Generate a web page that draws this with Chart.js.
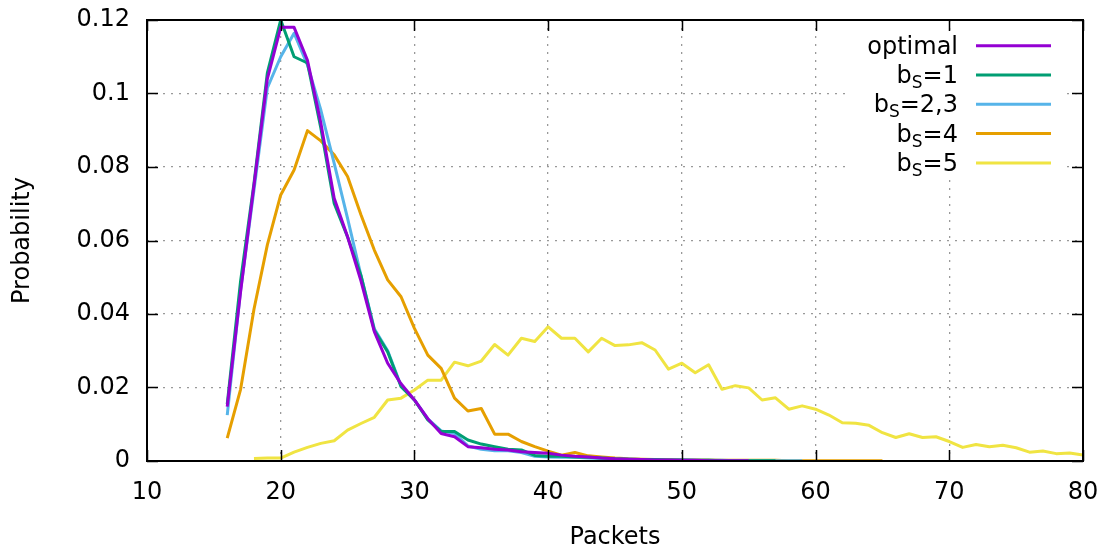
<!DOCTYPE html>
<html>
<head>
<meta charset="utf-8">
<script src="https://cdn.jsdelivr.net/npm/chart.js@4.4.1/dist/chart.umd.min.js"></script>
<style>
  html, body { margin: 0; padding: 0; background: #fff; }
</style>
</head>
<body>
<canvas id="myChart" width="1106" height="550"></canvas>
<script>
// packets (x) start for each series, one value per packet count after that
const seriesNames = ["optimal", "b_S=1", "b_S=2,3", "b_S=4", "b_S=5"]
const seriesStart = [16, 16, 16, 16, 18]

const optimal = [0.0148, 0.046, 0.075, 0.104, 0.118, 0.118, 0.109, 0.092, 0.0715, 0.061,
  0.049, 0.0352, 0.0266, 0.021, 0.0166, 0.0115, 0.0075, 0.0066, 0.0039, 0.0036,
  0.0032, 0.003, 0.0025, 0.0023, 0.0021, 0.0016, 0.0013, 0.0011, 0.0008, 0.0006,
  0.0005, 0.0004, 0.0003, 0.0003, 0.0002, 0.0002, 0.0001, 0.0001, 0.0001, 0.0001]

const bs1 = [0.0155, 0.049, 0.0755, 0.1056, 0.12, 0.11, 0.1083, 0.0906, 0.0701, 0.061,
  0.0505, 0.0356, 0.0297, 0.0202, 0.0166, 0.0112, 0.008, 0.008, 0.0057, 0.0046,
  0.0039, 0.0032, 0.003, 0.0015, 0.0013, 0.0013, 0.0011, 0.001, 0.0008, 0.0006,
  0.0005, 0.0004, 0.0004, 0.0003, 0.0003, 0.0002, 0.0002, 0.0001, 0.0001, 0.0001,
  0.0001, 0.0001]

const bs23 = [0.0125, 0.0465, 0.0737, 0.1015, 0.11, 0.1164, 0.1078, 0.0955, 0.081, 0.066,
  0.0505, 0.036, 0.03, 0.0205, 0.0166, 0.0115, 0.0082, 0.0075, 0.0041, 0.0032,
  0.0028, 0.0028, 0.0023, 0.0013, 0.0011, 0.001, 0.001, 0.0008, 0.0007, 0.0005,
  0.0005, 0.0004, 0.0003, 0.0003, 0.0003, 0.0002, 0.0002, 0.0002, 0.0001, 0.0001,
  0.0001, 0.0001, 0.0001, 0.0001]

const bs4 = [0.0062, 0.0195, 0.0413, 0.0588, 0.0724, 0.0792, 0.0899, 0.0871, 0.0833, 0.0774,
  0.067, 0.0574, 0.0493, 0.0447, 0.0361, 0.0288, 0.0252, 0.0171, 0.0136, 0.0143,
  0.0073, 0.0073, 0.0053, 0.0039, 0.0027, 0.0016, 0.0023, 0.0014, 0.0011, 0.0008,
  0.0006, 0.0005, 0.0004, 0.0004, 0.0003, 0.0003, 0.0003, 0.0002, 0.0002, 0.0002,
  0.0002, 0.0002, 0.0001, 0.0001, 0.0001, 0.0001, 0.0001, 0.0001, 0.0001, 0.0001]

const bs5 = [0.0007, 0.0008, 0.0008, 0.0024, 0.0037, 0.0048, 0.0055, 0.0084, 0.0102, 0.0119,
  0.0166, 0.0171, 0.0193, 0.022, 0.022, 0.0269, 0.0259, 0.0272, 0.0317, 0.0288,
  0.0334, 0.0325, 0.0365, 0.0334, 0.0334, 0.0297, 0.0334, 0.0314, 0.0316, 0.0322,
  0.0302, 0.025, 0.0266, 0.024, 0.0262, 0.0195, 0.0205, 0.0199, 0.0166, 0.0172,
  0.0141, 0.015, 0.0141, 0.0125, 0.0104, 0.0103, 0.0097, 0.0077, 0.0064, 0.0074,
  0.0064, 0.0066, 0.0053, 0.0037, 0.0045, 0.0039, 0.0043, 0.0036, 0.0024, 0.0027,
  0.002, 0.0022, 0.0016]

const xTicks = [10, 20, 30, 40, 50, 60, 70, 80]
const yTicks = [0, 0.02, 0.04, 0.06, 0.08, 0.1, 0.12]

const allSeries = [optimal, bs1, bs23, bs4, bs5]
const lineColors = ["#9400d3", "#009e73", "#56b4e9", "#e69f00", "#f0e442"]
const fontName = "'DejaVu Sans', sans-serif"

function toPoints(values, start) {
  return values.map((v, i) => ({ x: start + i, y: v }))
}

const datasets = allSeries.map((values, i) => ({
  label: seriesNames[i],
  data: toPoints(values, seriesStart[i]),
  borderColor: lineColors[i],
  borderWidth: 3,
  pointRadius: 0,
  tension: 0,
  borderJoinStyle: "round",
  fill: false,
}))

// draws "b_S=1" as b + subscript S + rest
function drawKeyLabel(ctx, text, right, y) {
  const big = "24px " + fontName
  const small = "17px " + fontName
  let parts = [{ t: text, sub: false }]
  if (text.includes("_")) {
    const head = text.split("_")[0]
    const rest = text.split("_")[1]
    parts = [{ t: head, sub: false }, { t: rest[0], sub: true }, { t: rest.slice(1), sub: false }]
  }
  let total = 0
  parts.forEach((p) => {
    ctx.font = p.sub ? small : big
    p.w = ctx.measureText(p.t).width
    total += p.w
  })
  let x = right - total
  ctx.textAlign = "left"
  ctx.textBaseline = "alphabetic"
  parts.forEach((p) => {
    ctx.font = p.sub ? small : big
    ctx.fillText(p.t, x, p.sub ? y + 13 : y + 8)
    x += p.w
  })
}

const gnuplotLook = {
  id: "gnuplotLook",
  beforeDatasetsDraw(chart) {
    const ctx = chart.ctx
    const a = chart.chartArea
    ctx.save()
    ctx.fillStyle = "#fff"
    ctx.fillRect(a.right - 238, a.top + 12, 222, 146)
    ctx.restore()
  },
  afterDatasetsDraw(chart) {
    const ctx = chart.ctx
    const a = chart.chartArea
    const xs = chart.scales.x
    const ys = chart.scales.y
    ctx.save()
    ctx.strokeStyle = "#000"
    ctx.lineWidth = 1.5
    ctx.beginPath()
    xTicks.forEach((v) => {
      const px = Math.round(xs.getPixelForValue(v)) + 0.5
      ctx.moveTo(px, a.bottom)
      ctx.lineTo(px, a.bottom - 11)
      ctx.moveTo(px, a.top)
      ctx.lineTo(px, a.top + 11)
    })
    yTicks.forEach((v) => {
      const py = Math.round(ys.getPixelForValue(v)) + 0.5
      ctx.moveTo(a.left, py)
      ctx.lineTo(a.left + 11, py)
      ctx.moveTo(a.right, py)
      ctx.lineTo(a.right - 11, py)
    })
    ctx.stroke()

    ctx.lineWidth = 2
    ctx.strokeRect(a.left, a.top, a.right - a.left, a.bottom - a.top)

    // key
    ctx.fillStyle = "#000"
    seriesNames.forEach((name, i) => {
      const y = a.top + 25.7 + i * 29.3
      drawKeyLabel(ctx, name, a.right - 125, y)
      ctx.strokeStyle = lineColors[i]
      ctx.lineWidth = 3
      ctx.beginPath()
      ctx.moveTo(a.right - 107, y)
      ctx.lineTo(a.right - 32, y)
      ctx.stroke()
    })
    ctx.restore()
  },
}

new Chart(document.getElementById("myChart"), {
  type: "line",
  data: { datasets: datasets },
  plugins: [gnuplotLook],
  options: {
    responsive: false,
    animation: false,
    layout: { padding: { top: 20, right: 23, left: 0, bottom: 0 } },
    plugins: {
      legend: { display: false },
      tooltip: { enabled: false },
    },
    scales: {
      x: {
        type: "linear",
        min: 10,
        max: 80,
        afterFit: (scale) => {
          scale.height = 89
          scale.paddingLeft = 0
          scale.paddingRight = 0
        },
        afterBuildTicks: (scale) => { scale.ticks = xTicks.map((v) => ({ value: v })) },
        ticks: {
          color: "#000",
          font: { family: fontName, size: 24 },
          padding: 17,
          maxRotation: 0,
          callback: (v) => String(v),
        },
        grid: { color: "#999", lineWidth: 1.3, drawTicks: false },
        border: { display: false, dash: [2, 6] },
        title: {
          display: true,
          text: "Packets",
          color: "#000",
          font: { family: fontName, size: 24 },
          padding: { top: 0, bottom: -2 },
        },
      },
      y: {
        min: 0,
        max: 0.12,
        afterFit: (scale) => {
          scale.width = 147
          scale.paddingTop = 0
          scale.paddingBottom = 0
        },
        afterBuildTicks: (scale) => { scale.ticks = yTicks.map((v) => ({ value: v })) },
        ticks: {
          color: "#000",
          font: { family: fontName, size: 24 },
          padding: 17,
          callback: (v) => String(Number(v.toFixed(2))),
        },
        grid: { color: "#999", lineWidth: 1.3, drawTicks: false },
        border: { display: false, dash: [2, 6] },
        title: {
          display: true,
          text: "Probability",
          color: "#000",
          font: { family: fontName, size: 24 },
          padding: { top: 8, bottom: 0 },
        },
      },
    },
  },
})
</script>
</body>
</html>
